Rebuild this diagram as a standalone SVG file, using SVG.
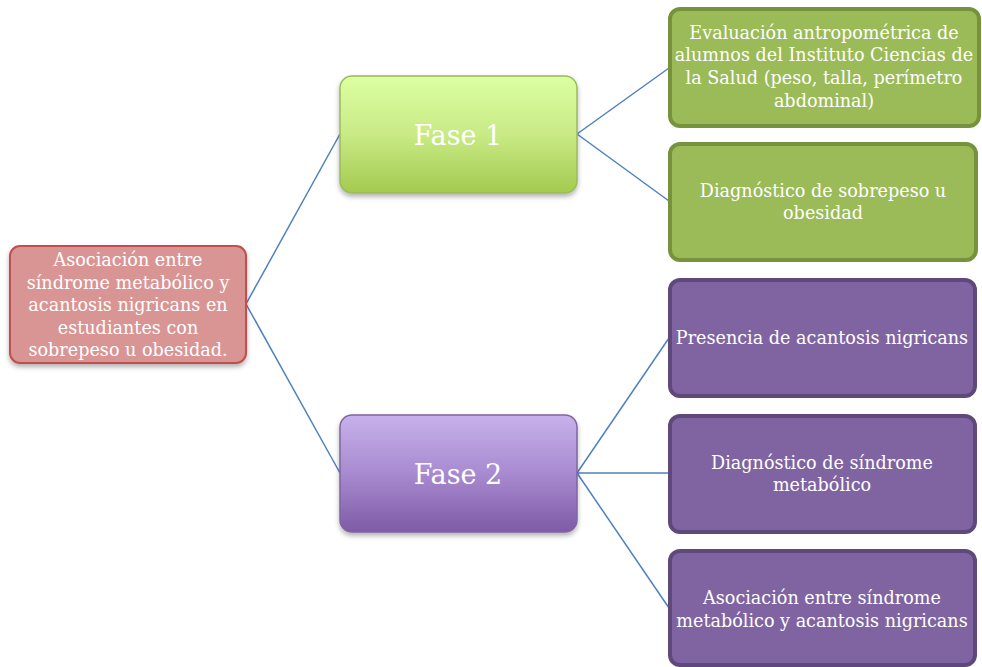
<svg xmlns="http://www.w3.org/2000/svg" width="982" height="667" viewBox="0 0 982 667">
<defs>
<linearGradient id="g1" x1="0" y1="0" x2="0" y2="1"><stop offset="0" stop-color="#dcffa2"/><stop offset="0.5" stop-color="#c9ea85"/><stop offset="1" stop-color="#a3ca4f"/></linearGradient>
<linearGradient id="g2" x1="0" y1="0" x2="0" y2="1"><stop offset="0" stop-color="#c7b1eb"/><stop offset="0.5" stop-color="#a88ad0"/><stop offset="1" stop-color="#7f5ba6"/></linearGradient>
<filter id="sh" x="-10%" y="-10%" width="125%" height="130%"><feDropShadow dx="0" dy="3" stdDeviation="2.5" flood-color="#000" flood-opacity="0.3"/></filter>
</defs>
<style>
text{font-family:"DejaVu Serif","Liberation Serif",serif;fill:#fff;text-anchor:middle}
.s{font-size:17.6px}
.b{font-size:27px}
.c{stroke:#4f81bd;stroke-width:1.5;fill:none}
.gl{fill:#9bbb59;stroke:#76923c;stroke-width:4}
.pl{fill:#8064a2;stroke:#5f497a;stroke-width:4}
</style>
<g id="connectors">
<line class="c" x1="246" y1="304" x2="340" y2="134"/>
<line class="c" x1="246" y1="304" x2="340" y2="473"/>
<line class="c" x1="577" y1="134" x2="669" y2="68"/>
<line class="c" x1="577" y1="134" x2="669" y2="201"/>
<line class="c" x1="577" y1="473" x2="669" y2="338"/>
<line class="c" x1="577" y1="473" x2="669" y2="473"/>
<line class="c" x1="577" y1="473" x2="669" y2="608"/>
</g>
<g id="root">
<rect x="10" y="246" width="236" height="117" rx="10" fill="#d99594" stroke="#c0504d" stroke-width="2" filter="url(#sh)"/>
<text class="s"><tspan x="128" y="266">Asociación entre</tspan><tspan x="128" y="289">síndrome metabólico y</tspan><tspan x="128" y="311">acantosis nigricans en</tspan><tspan x="128" y="334">estudiantes con</tspan><tspan x="128" y="356">sobrepeso u obesidad.</tspan></text>
</g>
<g id="fase1">
<rect x="340" y="76" width="237" height="117" rx="12" fill="url(#g1)" stroke="#9bbb59" stroke-width="1.5" filter="url(#sh)"/>
<text class="b" x="458" y="145">Fase 1</text>
</g>
<g id="fase2">
<rect x="340" y="415" width="237" height="117" rx="12" fill="url(#g2)" stroke="#8064a2" stroke-width="1.5" filter="url(#sh)"/>
<text class="b" x="458" y="484">Fase 2</text>
</g>
<g id="leaf1">
<rect class="gl" x="670" y="9" width="309" height="117" rx="10"/>
<text class="s"><tspan x="824" y="39">Evaluación antropométrica de</tspan><tspan x="824" y="61">alumnos del Instituto Ciencias de</tspan><tspan x="824" y="84">la Salud (peso, talla, perímetro</tspan><tspan x="824" y="107">abdominal)</tspan></text>
</g>
<g id="leaf2">
<rect class="gl" x="670" y="144" width="306" height="116" rx="10"/>
<text class="s"><tspan x="823" y="197">Diagnóstico de sobrepeso u</tspan><tspan x="823" y="219">obesidad</tspan></text>
</g>
<g id="leaf3">
<rect class="pl" x="670" y="280" width="305" height="116" rx="10"/>
<text class="s" x="822" y="344">Presencia de acantosis nigricans</text>
</g>
<g id="leaf4">
<rect class="pl" x="670" y="416" width="305" height="116" rx="10"/>
<text class="s"><tspan x="822" y="469">Diagnóstico de síndrome</tspan><tspan x="822" y="491">metabólico</tspan></text>
</g>
<g id="leaf5">
<rect class="pl" x="670" y="551" width="305" height="114" rx="10"/>
<text class="s"><tspan x="822" y="604">Asociación entre síndrome</tspan><tspan x="822" y="627">metabólico y acantosis nigricans</tspan></text>
</g>
</svg>
